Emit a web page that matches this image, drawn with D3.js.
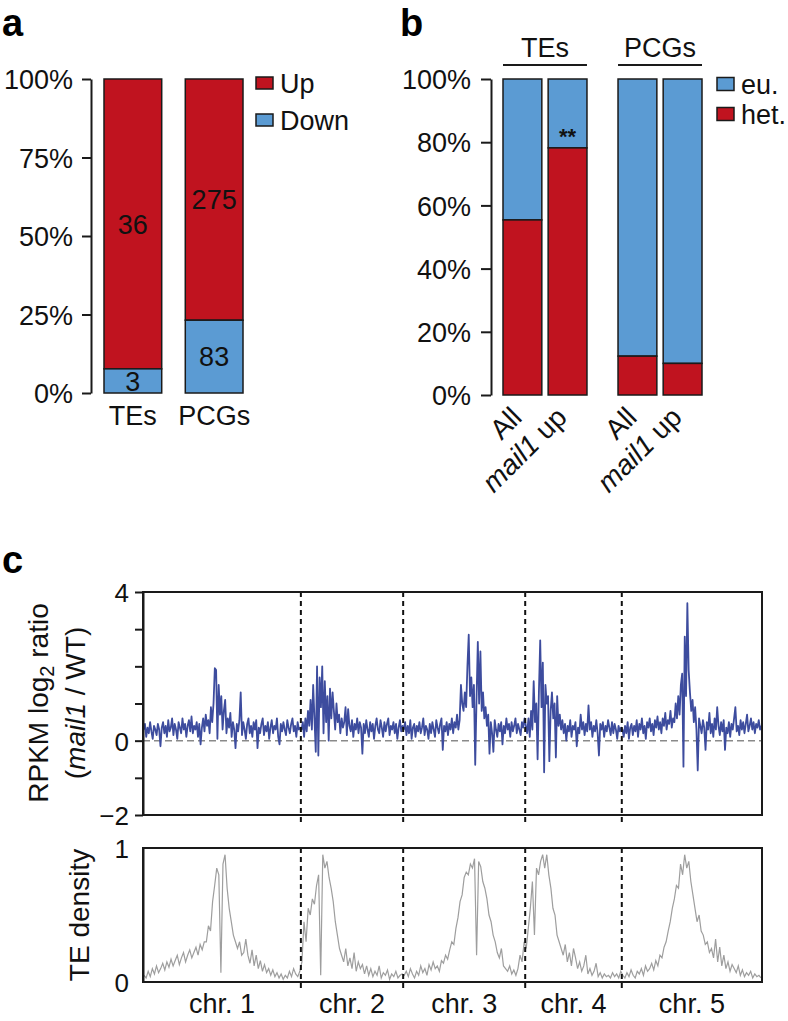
<!DOCTYPE html>
<html>
<head>
<meta charset="utf-8">
<script src="https://cdn.jsdelivr.net/npm/d3@7"></script>
<style>
  html, body { margin: 0; padding: 0; background: #fff; }
  svg { display: block; font-family: "Liberation Sans", Arial, Helvetica, sans-serif; }
</style>
</head>
<body>
<div id="chart"></div>
<script>
'use strict';

// ---- panel a data ----
const aCategories = ["TEs", "PCGs"];
const aUp = [36, 275];
const aDown = [3, 83];
const aTicks = [0, 25, 50, 75, 100];

// ---- panel b data (percent heterochromatic) ----
const bGroups = ["TEs", "PCGs"];
const bBars = ["All", "mail1 up"];
const bHet = [55.4, 78.2, 12.3, 10.0];
const bTicks = [0, 20, 40, 60, 80, 100];

// ---- panel c data ----
const chrNames = ["chr. 1", "chr. 2", "chr. 3", "chr. 4", "chr. 5"];
const chrLengths = [30.4, 19.7, 23.5, 18.6, 27.0]; // Mb

// RPKM log2 ratio (mail1 / WT), binned along each chromosome
const ratioChr1 = [0.3, 0.45, 0.1, 0.35, 0.2, 0.5, 0.25, 0.05, 0.4, 0.3,
  0.15, 0.45, 0.3, -0.15, 0.35, 0.5, 0.2, 0.4, 0.1, 0.55,
  0.25, 0.35, 0.6, 0.15, 0.45, 0.3, 0.05, 0.5, 0.35, 0.2,
  0.6, 0.3, 0.45, 0.1, 0.4, 0.55, 0.25, 0.65, 0.2, 0.4,
  0.3, 0.5, 0.1, 0.45, -0.1, 0.35, 0.6, 0.25, 0.7, 0.4,
  0.55, 0.2, 0.9, 0.5, 1.0, 1.95, 1.9, 0.05, 1.5, 0.7,
  1.2, 0.3, 0.8, 1.1, 0.2, 0.6, 0.35, 0.75, 0.1, 0.5,
  0.3, -0.2, 0.45, 0.25, 0.55, 1.3, 0.15, 0.5, 0.3, 0.05,
  0.45, 0.6, 0.2, 0.4, 0.1, 0.5, 0.3, 0.55, -0.2, 0.35,
  0.2, 0.45, 0.6, 0.15, 0.4, 0.25, 0.5, 0.05, 0.35, 0.55,
  0.2, 0.4, 0.3, 0.6, 0.1, -0.1, 0.45, 0.25, 0.5, 0.3,
  0.15, 0.55, 0.35, 0.2, 0.45, 0.6, 0.25, 0.4, 0.1, 0.5,
  0.3, 0.35];
const ratioChr2 = [0.3, 0.5, 0.1, 0.6, 0.25, 0.8, 0.4, 1.1, 0.3, 1.5,
  0.6, -0.3, 2.0, -0.4, 1.7, 0.9, 2.0, 0.2, 1.6, 0.5,
  1.2, 0.0, 1.4, 0.6, 1.3, 0.8, 0.3, 1.0, 0.5, 0.7,
  0.2, 0.6, 0.35, 0.5, 0.9, 0.15, 0.85, 0.4, 0.25, 0.55,
  0.1, 0.45, 0.3, 0.6, 0.2, 0.5, 0.35, -0.35, 0.45, 0.2,
  0.55, 0.3, 0.1, 0.5, 0.25, 0.45, 0.05, 0.4, 0.6, 0.3,
  0.2, 0.55, 0.35, 0.1, 0.5, 0.25, 0.45, 0.6, 0.15, 0.4,
  0.3, 0.5, 0.2, 0.45, 0.05, 0.35, 0.55, 0.25, 0.4];
const ratioChr3 = [0.3, 0.5, 0.15, 0.4, 0.2, 0.55, 0.05, 0.35, 0.45, 0.1,
  0.4, 0.25, 0.5, 0.2, 0.35, 0.6, 0.15, 0.4, 0.3, 0.05,
  0.45, 0.2, 0.5, 0.3, 0.1, 0.55, 0.35, 0.2, 0.45, 0.6,
  -0.25, 0.4, 0.25, 0.5, 0.15, 0.45, 0.3, 0.6, 0.2, 0.5,
  0.35, 0.7, 0.3, 0.55, 1.5, 1.0, 0.8, 1.3, 0.9, 2.0,
  2.85, 1.2, 1.7, 0.9, 1.5, -0.65, 1.1, 2.66, 1.0, 2.4,
  0.8, 1.3, 0.6, 0.9, 0.4, 0.7, -0.35, 0.5, 0.2, -0.3,
  0.55, 0.3, 0.1, 0.45, 0.25, 0.5, -0.1, 0.4, 0.2, 0.6,
  0.3, 0.45, 0.1, 0.5, 0.25, 0.4, 0.6, 0.2, 0.45, 0.3,
  0.15, 0.5, 0.35, 0.6];
const ratioChr4 = [0.4, 0.2, 0.6, 0.1, 0.8, 0.3, 1.6, 0.5, 1.0, -0.5,
  1.3, 2.7, 0.9, 2.1, -0.85, 1.5, 1.0, 1.2, -0.55, 0.8,
  1.3, 0.6, 1.0, -0.45, 1.2, 0.4, 0.7, 0.3, 0.55, 0.2,
  0.45, 0.0, 0.4, 0.25, 0.55, 0.1, 0.4, 0.3, 0.5, -0.15,
  0.35, 0.2, 0.7, 0.3, 0.5, 0.15, 0.45, 0.25, 0.95, 0.3,
  0.5, 0.1, 0.4, 0.25, 0.55, 0.2, -0.4, 0.45, 0.3, 0.5,
  0.1, 0.4, 0.25, 0.55, 0.35, 0.15, 0.5, 0.2, 0.45, 0.3,
  0.05, 0.4, 0.25, 0.35];
const ratioChr5 = [0.3, 0.1, 0.4, 0.2, 0.5, 0.05, 0.35, 0.45, 0.15, 0.4,
  0.25, 0.55, 0.1, 0.45, 0.3, 0.6, 0.2, 0.4, 0.05, 0.5,
  0.35, 0.6, 0.25, 0.45, 0.15, 0.55, 0.35, 0.65, 0.3, 0.5,
  0.2, 0.6, 0.4, 0.75, 0.3, 0.55, 0.45, 0.8, 0.35, 0.6,
  0.5, 1.0, 0.6, 1.2, 0.7, 1.5, 1.8, -0.7, 2.8, 1.2,
  3.7, 1.9, 1.3, 0.8, 1.1, 0.5, 0.9, 0.3, -0.8, 0.6,
  0.4, 0.2, 0.55, 0.35, -0.25, 0.5, 0.3, 0.75, 0.2, 0.45,
  0.1, 0.6, 0.3, 0.9, 0.4, 0.15, 0.5, 0.25, 0.55, -0.25,
  0.35, 0.2, 0.5, 0.1, 0.45, 0.3, 0.6, 0.9, 0.25, 0.4,
  0.15, 0.55, 0.3, 0.5, 0.2, 0.45, 0.7, 0.25, 0.4, 0.6,
  0.3, 0.5, 0.2, 0.45, 0.35, 0.55, 0.3, 0.4];

// TE density, binned along each chromosome
const densChr1 = [0.05, 0.03, 0.08, 0.04, 0.1, 0.06, 0.12, 0.07, 0.1, 0.14, 0.09, 0.15, 0.11, 0.17, 0.12, 0.16, 0.2, 0.13, 0.18, 0.22,
  0.15, 0.2, 0.24, 0.18, 0.22, 0.26, 0.2, 0.28, 0.24, 0.3, 0.3, 0.42, 0.38, 0.6, 0.72, 0.85, 0.8, 0.07, 0.88, 0.95,
  0.7, 0.55, 0.45, 0.35, 0.3, 0.25, 0.3, 0.2, 0.22, 0.32, 0.2, 0.14, 0.24, 0.12, 0.2, 0.1, 0.16, 0.08, 0.13, 0.07,
  0.1, 0.05, 0.09, 0.04, 0.07, 0.03, 0.06, 0.02, 0.05, 0.03, 0.08, 0.04, 0.1, 0.06, 0.04, 0.08];
const densChr2 = [0.15, 0.45, 0.3, 0.55, 0.5, 0.62, 0.58, 0.72, 0.8, 0.05, 0.95, 0.85, 0.9, 0.78, 0.7, 0.6, 0.45, 0.35, 0.25, 0.2,
  0.15, 0.25, 0.12, 0.18, 0.1, 0.22, 0.08, 0.15, 0.1, 0.13, 0.06, 0.12, 0.05, 0.1, 0.04, 0.08, 0.05, 0.12, 0.03, 0.07,
  0.05, 0.09, 0.02, 0.06, 0.04, 0.08, 0.03, 0.05, 0.06];
const densChr3 = [0.05, 0.08, 0.04, 0.1, 0.06, 0.03, 0.08, 0.05, 0.12, 0.07, 0.1, 0.05, 0.13, 0.09, 0.15, 0.1, 0.12, 0.08, 0.16, 0.14,
  0.2, 0.17, 0.24, 0.3, 0.28, 0.4, 0.48, 0.6, 0.65, 0.78, 0.82, 0.8, 0.88, 0.85, 0.92, 0.2, 0.9, 0.86, 0.75, 0.7,
  0.62, 0.5, 0.45, 0.35, 0.3, 0.22, 0.18, 0.25, 0.12, 0.1, 0.08, 0.12, 0.06, 0.09, 0.05, 0.1, 0.2, 0.15, 0.3];
const densChr4 = [0.25, 0.4, 0.55, 0.75, 0.35, 0.85, 0.8, 0.9, 0.95, 0.85, 0.95, 0.8, 0.7, 0.55, 0.5, 0.35, 0.3, 0.25, 0.2, 0.28,
  0.15, 0.22, 0.12, 0.25, 0.18, 0.1, 0.15, 0.08, 0.12, 0.2, 0.06, 0.1, 0.05, 0.08, 0.14, 0.04, 0.07, 0.03, 0.06, 0.04,
  0.05, 0.03, 0.07, 0.04, 0.06, 0.03, 0.08];
const densChr5 = [0.05, 0.03, 0.07, 0.04, 0.09, 0.05, 0.03, 0.08, 0.06, 0.1, 0.05, 0.12, 0.08, 0.1, 0.14, 0.09, 0.16, 0.12, 0.2, 0.18,
  0.26, 0.3, 0.38, 0.45, 0.55, 0.62, 0.72, 0.7, 0.88, 0.8, 0.95, 0.85, 0.9, 0.75, 0.65, 0.55, 0.45, 0.5, 0.38, 0.35,
  0.28, 0.3, 0.22, 0.25, 0.18, 0.32, 0.15, 0.26, 0.12, 0.2, 0.1, 0.15, 0.08, 0.13, 0.1, 0.07, 0.12, 0.05, 0.09, 0.04,
  0.07, 0.05, 0.08, 0.03, 0.06, 0.04, 0.05, 0.03];

const ratioByChr = [ratioChr1, ratioChr2, ratioChr3, ratioChr4, ratioChr5];
const densByChr = [densChr1, densChr2, densChr3, densChr4, densChr5];

(function() {
    const RED = "#c0131f", BLUE = "#5b9bd3", INK = "#1a1a1a";
    const FS = 27;

    const svg = d3.select("#chart").append("svg")
        .attr("width", 788).attr("height", 1021);

    function panelLetter(x, y, t) {
        svg.append("text").attr("x", x).attr("y", y)
            .attr("font-size", 38).attr("font-weight", "bold").text(t);
    }

    function styleAxis(g, fs) {
        g.select(".domain").attr("stroke", INK).attr("stroke-width", 2);
        g.selectAll(".tick line").attr("stroke", INK).attr("stroke-width", 2);
        g.selectAll(".tick text").attr("font-size", fs).attr("fill", "#111")
            .attr("font-family", "Liberation Sans, Arial, sans-serif");
    }

    // ================= panel a =================
    panelLetter(2, 36, "a");
    const ay = d3.scaleLinear().domain([0, 100]).range([393, 79]);
    const ax = d3.scaleBand().domain(aCategories).range([104, 243]).paddingInner(0.29).paddingOuter(0);

    const aAxis = svg.append("g").attr("transform", "translate(91,0)")
        .call(d3.axisLeft(ay).tickValues(aTicks).tickFormat(d => d + "%").tickSize(9).tickSizeOuter(0).tickPadding(9));
    styleAxis(aAxis, FS);
    aAxis.selectAll(".tick text").attr("dy", "0.36em");

    aCategories.forEach(function(c, i) {
        const total = aUp[i] + aDown[i];
        const downPct = aDown[i] / total * 100;
        const x0 = ax(c), w = ax.bandwidth();
        svg.append("rect").attr("x", x0).attr("y", ay(100)).attr("width", w)
            .attr("height", ay(downPct) - ay(100)).attr("fill", RED).attr("stroke", INK).attr("stroke-width", 1.5);
        svg.append("rect").attr("x", x0).attr("y", ay(downPct)).attr("width", w)
            .attr("height", ay(0) - ay(downPct)).attr("fill", BLUE).attr("stroke", INK).attr("stroke-width", 1.5);
        svg.append("text").attr("x", x0 + w / 2).attr("y", ay((downPct + 100) / 2)).attr("dy", "0.36em")
            .attr("text-anchor", "middle").attr("font-size", FS).attr("fill", "#111").text(aUp[i]);
        svg.append("text").attr("x", x0 + w / 2).attr("y", ay(downPct / 2)).attr("dy", "0.36em")
            .attr("text-anchor", "middle").attr("font-size", FS).attr("fill", "#111").text(aDown[i]);
        svg.append("text").attr("x", x0 + w / 2).attr("y", 425)
            .attr("text-anchor", "middle").attr("font-size", FS).attr("fill", "#111").text(c);
    });

    // legend a
    [["Up", RED], ["Down", BLUE]].forEach(function(d, i) {
        const cy = 83 + i * 37;
        svg.append("rect").attr("x", 256).attr("y", cy - 6).attr("width", 17).attr("height", 12)
            .attr("fill", d[1]).attr("stroke", INK).attr("stroke-width", 1.5);
        svg.append("text").attr("x", 280).attr("y", cy).attr("dy", "0.36em")
            .attr("font-size", FS).attr("fill", "#111").text(d[0]);
    });

    // ================= panel b =================
    panelLetter(400, 36, "b");
    const by = d3.scaleLinear().domain([0, 100]).range([395, 79]);
    const bGroupX = d3.scaleBand().domain(bGroups).range([503, 702]).paddingInner(0.27).paddingOuter(0);
    const bBarX = d3.scaleBand().domain(bBars).range([0, bGroupX.bandwidth()]).paddingInner(0.14);

    const bAxis = svg.append("g").attr("transform", "translate(491,0)")
        .call(d3.axisLeft(by).tickValues(bTicks).tickFormat(d => d + "%").tickSize(10).tickSizeOuter(0).tickPadding(10));
    styleAxis(bAxis, FS);
    bAxis.selectAll(".tick text").attr("dy", "0.36em");

    bGroups.forEach(function(gname, gi) {
        const gx = bGroupX(gname);
        // group header with rule
        svg.append("text").attr("x", gx + bGroupX.bandwidth() / 2).attr("y", 57)
            .attr("text-anchor", "middle").attr("font-size", FS).attr("fill", "#111").text(gname);
        svg.append("line").attr("x1", gx).attr("x2", gx + bGroupX.bandwidth())
            .attr("y1", 65).attr("y2", 65).attr("stroke", INK).attr("stroke-width", 2);

        bBars.forEach(function(bname, bi) {
            const het = bHet[gi * 2 + bi];
            const x0 = gx + bBarX(bname), w = bBarX.bandwidth();
            svg.append("rect").attr("x", x0).attr("y", by(100)).attr("width", w)
                .attr("height", by(het) - by(100)).attr("fill", BLUE).attr("stroke", INK).attr("stroke-width", 1.5);
            svg.append("rect").attr("x", x0).attr("y", by(het)).attr("width", w)
                .attr("height", by(0) - by(het)).attr("fill", RED).attr("stroke", INK).attr("stroke-width", 1.5);

            // rotated tick label, its end tucked under the bar centre
            const lab = svg.append("text")
                .attr("transform", "translate(" + (x0 + w / 2 + 1) + ",419) rotate(-45)")
                .attr("text-anchor", "end").attr("font-size", 28).attr("fill", "#111");
            if (bname === "mail1 up") {
                lab.append("tspan").attr("font-style", "italic").text("mail1");
                lab.append("tspan").text(" up");
            } else {
                lab.text(bname);
            }

            if (gi === 0 && bi === 1) {
                svg.append("text").attr("x", x0 + w / 2).attr("y", by(het) - 4)
                    .attr("text-anchor", "middle").attr("font-size", 22).attr("font-weight", "bold")
                    .attr("fill", "#111").text("**");
            }
        });
    });

    // legend b
    [["eu.", BLUE], ["het.", RED]].forEach(function(d, i) {
        const cy = 84 + i * 30;
        svg.append("rect").attr("x", 717).attr("y", cy - 6.5).attr("width", 17).attr("height", 13)
            .attr("fill", d[1]).attr("stroke", INK).attr("stroke-width", 1.5);
        svg.append("text").attr("x", 741).attr("y", cy).attr("dy", "0.36em")
            .attr("font-size", FS).attr("fill", "#111").text(d[0]);
    });

    // ================= panel c =================
    panelLetter(2, 573, "c");

    // chromosome offsets along the concatenated genome
    const chrStart = [];
    let acc = 0;
    chrLengths.forEach(function(l) { chrStart.push(acc); acc += l; });
    const genome = acc;

    function flatten(byChr) {
        const out = [];
        byChr.forEach(function(vals, c) {
            const step = chrLengths[c] / vals.length;
            vals.forEach(function(v, i) {
                out.push({ pos: chrStart[c] + (i + 0.5) * step, v: v, chr: c });
            });
        });
        return out;
    }
    const ratioData = flatten(ratioByChr);
    const densData = flatten(densByChr);

    const cx = d3.scaleLinear().domain([0, genome]).range([143, 762]);
    const cyTop = d3.scaleLinear().domain([-2, 4]).range([815, 592]);
    const cyBot = d3.scaleLinear().domain([0, 1]).range([982, 848]);

    // top plot: zero reference
    svg.append("line").attr("x1", cx(0)).attr("x2", cx(genome))
        .attr("y1", cyTop(0)).attr("y2", cyTop(0))
        .attr("stroke", "#8a8a8a").attr("stroke-width", 1.5).attr("stroke-dasharray", "7,4");

    const ratioLine = d3.line().x(d => cx(d.pos)).y(d => cyTop(d.v));
    svg.append("path").datum(ratioData).attr("d", ratioLine)
        .attr("fill", "none").attr("stroke", "#3d4c9e").attr("stroke-width", 1.8).attr("stroke-linejoin", "round");

    const densLine = d3.line().x(d => cx(d.pos)).y(d => cyBot(d.v));
    svg.append("path").datum(densData).attr("d", densLine)
        .attr("fill", "none").attr("stroke", "#9e9e9e").attr("stroke-width", 1.2);

    // chromosome boundaries
    chrStart.slice(1).forEach(function(s) {
        [[cyTop(4), cyTop(-2) + 8], [cyBot(1), cyBot(0) + 6]].forEach(function(r) {
            svg.append("line").attr("x1", cx(s)).attr("x2", cx(s)).attr("y1", r[0]).attr("y2", r[1])
                .attr("stroke", "#111").attr("stroke-width", 2).attr("stroke-dasharray", "5,4");
        });
    });

    // frames
    svg.append("rect").attr("x", 143).attr("y", 592).attr("width", 619).attr("height", 223)
        .attr("fill", "none").attr("stroke", INK).attr("stroke-width", 2);
    svg.append("rect").attr("x", 143).attr("y", 848).attr("width", 619).attr("height", 134)
        .attr("fill", "none").attr("stroke", INK).attr("stroke-width", 2);

    // y axes
    const topAxis = svg.append("g").attr("transform", "translate(143,0)")
        .call(d3.axisLeft(cyTop).tickValues([-2, -1, 0, 1, 2, 3, 4])
            .tickFormat(d => (d === 4 || d === 0) ? String(d) : (d === -2 ? "\u22122" : ""))
            .tickSize(8).tickSizeOuter(0).tickPadding(6));
    styleAxis(topAxis, 26);
    topAxis.selectAll(".tick text").attr("dy", "0.36em");

    const botAxis = svg.append("g").attr("transform", "translate(143,0)")
        .call(d3.axisLeft(cyBot).tickValues([0, 1]).tickFormat(d3.format("d"))
            .tickSize(0).tickSizeOuter(0).tickPadding(14));
    styleAxis(botAxis, 26);
    botAxis.selectAll(".tick text").attr("dy", "0.36em");

    // y titles
    const t1 = svg.append("text").attr("transform", "translate(48,703) rotate(-90)")
        .attr("text-anchor", "middle").attr("font-size", 28).attr("fill", "#111");
    t1.append("tspan").text("RPKM log");
    t1.append("tspan").attr("font-size", 20).attr("dy", 6).text("2");
    t1.append("tspan").attr("dy", -6).text(" ratio");

    const t2 = svg.append("text").attr("transform", "translate(85,703) rotate(-90)")
        .attr("text-anchor", "middle").attr("font-size", 28).attr("fill", "#111");
    t2.append("tspan").text("(");
    t2.append("tspan").attr("font-style", "italic").text("mail1");
    t2.append("tspan").text(" / WT)");

    svg.append("text").attr("transform", "translate(89,915) rotate(-90)")
        .attr("text-anchor", "middle").attr("font-size", 28).attr("fill", "#111").text("TE density");

    // chromosome labels
    chrNames.forEach(function(n, i) {
        svg.append("text").attr("x", cx(chrStart[i] + chrLengths[i] / 2)).attr("y", 1013)
            .attr("text-anchor", "middle").attr("font-size", FS).attr("fill", "#111").text(n);
    });
})();
</script>
</body>
</html>
